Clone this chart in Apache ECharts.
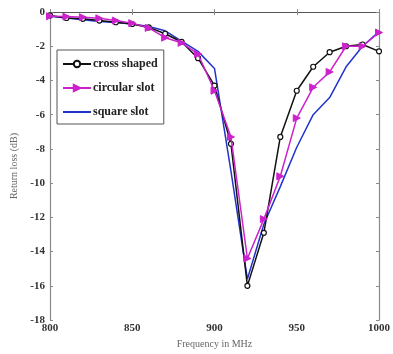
<!DOCTYPE html>
<html>
<head>
<meta charset="utf-8">
<script src="https://cdn.jsdelivr.net/npm/echarts@6/dist/echarts.min.js"></script>
<style>
  html, body { margin: 0; padding: 0; background: #fff; }
  #chart { width: 393px; height: 354px; }
</style>
</head>
<body>
<div id="chart"></div>
<script>
// frequency points (MHz)
const freq = [800, 810, 820, 830, 840, 850, 860, 870, 880, 890, 900,
  910, 920, 930, 940, 950, 960, 970, 980, 990, 1000];

// return loss (dB)
const crossShaped = [-0.2, -0.35, -0.4, -0.5, -0.6, -0.7, -0.9, -1.27, -1.75, -2.7, -4.3,
  -7.7, -16.0, -12.9, -7.3, -4.6, -3.2, -2.35, -2.0, -1.9, -2.3];
const circularSlot = [-0.25, -0.27, -0.3, -0.37, -0.5, -0.65, -0.93, -1.5, -1.8, -2.45, -4.6,
  -7.3, -14.4, -12.1, -9.6, -6.2, -4.4, -3.5, -2.0, -2.0, -1.2];
const squareSlot = [-0.25, -0.35, -0.45, -0.55, -0.62, -0.7, -0.85, -1.1, -1.7, -2.3, -3.3,
  -9.3, -15.6, -12.4, -10.2, -7.9, -6.0, -5.0, -3.2, -2.0, -1.15];

const seriesNames = ["cross shaped", "circular slot", "square slot"];

const pairs = (ys) => freq.map((f, i) => [f, ys[i]]);

const serif = "Liberation Serif";
const axisGray = "#8a8a8a";

const chart = echarts.init(document.getElementById("chart"), null, { renderer: "canvas" });

const tickStyle = { inside: true, length: 3, lineStyle: { color: axisGray } };

chart.setOption({
  animation: false,
  backgroundColor: "#fff",
  textStyle: { fontFamily: serif },
  grid: { left: 50, right: 9, top: 12, bottom: 30 },
  legend: {
    orient: "vertical",
    left: 57,
    top: 50,
    padding: [8, 6, 6, 5],
    itemGap: 12,
    itemWidth: 28,
    itemHeight: 8,
    backgroundColor: "#fff",
    borderColor: "#555",
    borderWidth: 1,
    borderRadius: 0,
    textStyle: { fontFamily: serif, fontSize: 12, fontWeight: "bold", color: "#222", padding: [0, 0, 0, -3] },
    data: [
      { name: seriesNames[0] },
      { name: seriesNames[1] },
      // plain line, no marker in the key
      { name: seriesNames[2], itemStyle: { opacity: 0 } }
    ]
  },
  xAxis: [
    {
      type: "value",
      min: 800,
      max: 1000,
      interval: 50,
      name: "Frequency in MHz",
      nameLocation: "middle",
      nameGap: 16,
      nameTextStyle: { fontFamily: serif, fontSize: 10, color: "#666" },
      axisLine: { lineStyle: { color: axisGray, width: 1.2 } },
      axisTick: tickStyle,
      axisLabel: {
        fontFamily: serif, fontSize: 11, fontWeight: "bold", color: "#333", margin: 3,
        formatter: (v) => String(v)
      },
      splitLine: { show: false }
    },
    {
      type: "value",
      position: "top",
      min: 800,
      max: 1000,
      interval: 50,
      axisLine: { show: true, lineStyle: { color: "#555", width: 1.2 } },
      axisTick: tickStyle,
      axisLabel: { show: false },
      splitLine: { show: false }
    }
  ],
  yAxis: [
    {
      type: "value",
      min: -18,
      max: 0,
      interval: 2,
      name: "Return loss (dB)",
      nameLocation: "middle",
      nameGap: 26,
      nameTextStyle: { fontFamily: serif, fontSize: 10, color: "#666" },
      axisLine: { show: true, lineStyle: { color: axisGray, width: 1.2 } },
      axisTick: tickStyle,
      axisLabel: { fontFamily: serif, fontSize: 11, fontWeight: "bold", color: "#333", margin: 5 },
      splitLine: { show: false }
    },
    {
      type: "value",
      position: "right",
      min: -18,
      max: 0,
      interval: 2,
      axisLine: { show: true, lineStyle: { color: axisGray, width: 1.2 } },
      axisTick: tickStyle,
      axisLabel: { show: false },
      splitLine: { show: false }
    }
  ],
  series: [
    {
      name: seriesNames[0],
      type: "line",
      data: pairs(crossShaped),
      symbol: "circle",
      symbolSize: 5,
      showAllSymbol: true,
      lineStyle: { color: "#111", width: 1.5 },
      itemStyle: { color: "#fff", borderColor: "#111", borderWidth: 1.2 },
      z: 3
    },
    {
      name: seriesNames[1],
      type: "line",
      data: pairs(circularSlot),
      symbol: "triangle",
      symbolRotate: -90,
      symbolSize: 7,
      showAllSymbol: true,
      lineStyle: { color: "#cc22cc", width: 1.5 },
      itemStyle: { color: "#cc22cc", borderColor: "#cc22cc", borderWidth: 1 },
      z: 4
    },
    {
      name: seriesNames[2],
      type: "line",
      data: pairs(squareSlot),
      symbol: "none",
      lineStyle: { color: "#2233cc", width: 1.5 },
      itemStyle: { color: "#2233cc" },
      z: 2
    }
  ]
});
</script>
</body>
</html>
